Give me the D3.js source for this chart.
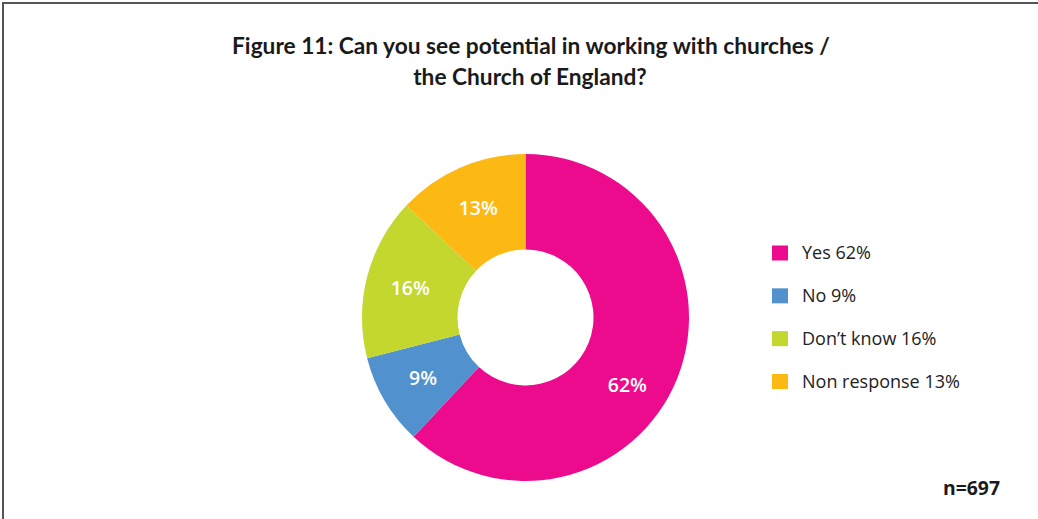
<!DOCTYPE html>
<html><head><meta charset="utf-8">
<script src="https://cdn.jsdelivr.net/npm/d3@7"></script>
<style>body{margin:0;background:#fff;} svg{display:block;}</style>
</head><body>
<svg id="c" width="1038" height="519"></svg>
<script>
const categories = ["Yes", "No", "Don\u2019t know", "Non response"];
const values = [62, 9, 16, 13];
const colors = ["#EC0B8D", "#5191CE", "#C3D72F", "#FDB913"];
const titleLines = ["Figure 11: Can you see potential in working with churches /", "the Church of England?"];
const sampleNote = "n=697";

const svg = d3.select("#c");
// frame (left & top)
svg.append("line").attr("x1",3).attr("y1",3).attr("x2",1038).attr("y2",3).attr("stroke","#555").attr("stroke-width",2);
svg.append("line").attr("x1",3).attr("y1",2).attr("x2",3).attr("y2",519).attr("stroke","#555").attr("stroke-width",2);

function fit(sel, w){ const n=sel.node(); const l=n.getComputedTextLength(); if(l>0){ const fs=parseFloat(sel.attr("font-size")); sel.attr("font-size", fs*w/l);} }

const title = svg.append("g").attr("font-family","Lato, 'Open Sans', sans-serif").attr("font-weight","bold").attr("fill","#1a1a1a").attr("text-anchor","middle");
const t1 = title.append("text").attr("x",531).attr("y",54).attr("font-size",20).text(titleLines[0]);
fit(t1, 598);
const t2 = title.append("text").attr("x",530).attr("y",85).attr("font-size",t1.attr("font-size")).text(titleLines[1]);

const cx = 525.5, cy = 317.5, rO = 163.5, rI = 68;
const pie = d3.pie().sort(null).value(d=>d)(values);
const arc = d3.arc().innerRadius(rI).outerRadius(rO);
const g = svg.append("g").attr("transform",`translate(${cx},${cy})`);
g.selectAll("path").data(pie).join("path").attr("d",arc).attr("fill",(d,i)=>colors[i]);

const labelArc = d3.arc().innerRadius(119).outerRadius(119);
g.selectAll("text").data(pie).join("text")
  .attr("transform",(d,i)=>{
    let p;
    if(i===0){ const a = d.startAngle + (d.endAngle-d.startAngle)*0.553; p = [Math.sin(a)*122, -Math.cos(a)*122]; }
    else p = labelArc.centroid(d);
    return `translate(${p[0]},${p[1]})`;
  })
  .attr("text-anchor","middle").attr("dy","0.36em")
  .attr("font-family","'Open Sans', sans-serif").attr("font-weight",600).attr("font-size",19.5)
  .attr("fill","#fff").text(d=>d.value+"%");

const leg = svg.append("g").attr("font-family","'Open Sans', sans-serif").attr("fill","#222");
const ly = d3.scalePoint().domain(categories).range([253, 381.5]);
const legTexts = categories.map((c,i)=>{
  leg.append("rect").attr("x",772).attr("y",ly(c)-7.5).attr("width",16).attr("height",15).attr("fill",colors[i]);
  return leg.append("text").attr("x",802).attr("y",ly(c)).attr("dy","0.36em").attr("font-size",17).text(c+" "+values[i]+"%");
});
fit(legTexts[3], 158);
legTexts.forEach(t=>t.attr("font-size", legTexts[3].attr("font-size")));

const nt = svg.append("text").attr("x",1000).attr("y",495).attr("text-anchor","end")
  .attr("font-family","'Open Sans', sans-serif").attr("font-weight","bold").attr("font-size",17).attr("fill","#1a1a1a").text(sampleNote);
fit(nt, 57);
</script>
</body></html>
